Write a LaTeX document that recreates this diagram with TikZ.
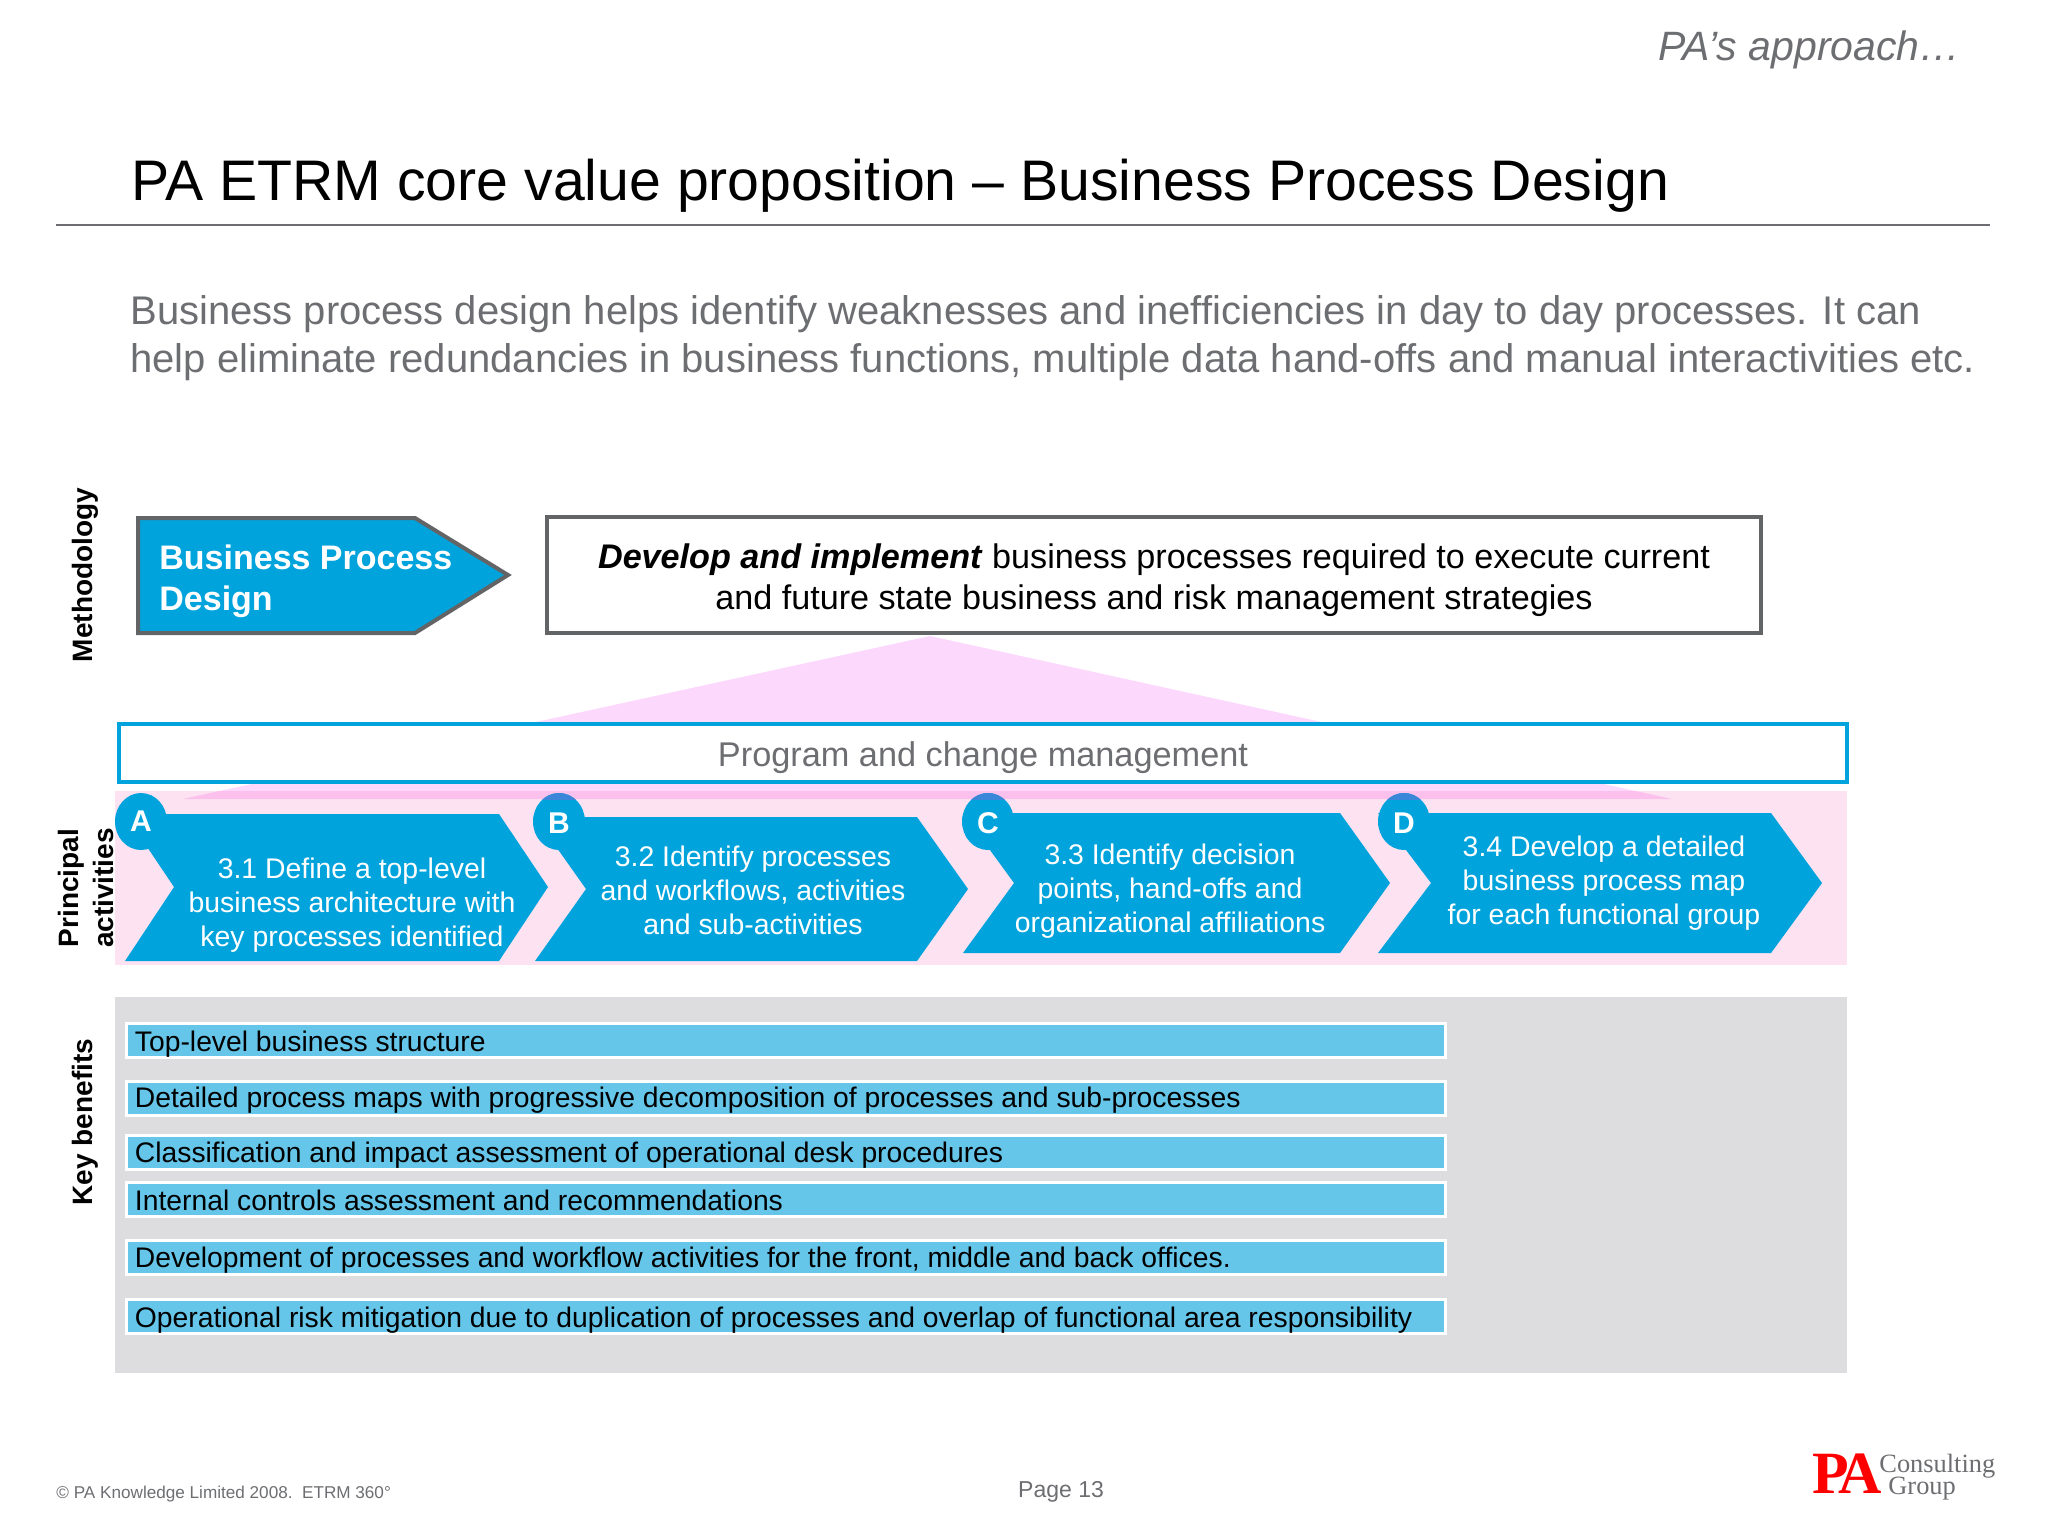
\documentclass[tikz,border=0pt]{standalone}
\usepackage{fontspec}
\usetikzlibrary{shapes.geometric}
\setmainfont{Liberation Sans}
\newfontfamily\serifgroup{Liberation Serif}
\definecolor{pablue}{HTML}{00A3DB}
\definecolor{pabar}{HTML}{66C6EA}
\definecolor{pagrey}{HTML}{6D6E71}
\definecolor{paedge}{HTML}{636466}
\definecolor{papink}{HTML}{FDE3F2}
\definecolor{patri}{HTML}{FCD9FC}
\definecolor{pastrip}{HTML}{FBC0EC}
\definecolor{papanel}{HTML}{DDDCDE}
\definecolor{pacap}{HTML}{3B86D8}
\tikzset{
  chevron/.style={fill=pablue},
  badge/.style={ellipse,fill=pablue,minimum width=26pt,minimum height=28.5pt,inner sep=0pt},
  badgetext/.style={text=white,inner sep=0pt,font=\fontsize{15}{15}\selectfont\bfseries},
  acttext/.style={align=center,text=white,font=\fontsize{14.2}{17}\selectfont},
  benefit/.style={draw=white,line width=1.5pt,fill=pabar,minimum height=17pt,minimum width=659.5pt,inner sep=0pt},
  bentext/.style={anchor=west,inner sep=0pt,font=\fontsize{14.15}{17}\selectfont},
  sidelabel/.style={rotate=90,align=center,font=\fontsize{14}{17.5}\selectfont\bfseries}
}
\begin{document}
\begin{tikzpicture}[x=0.5pt,y=-0.5pt]
  \useasboundingbox (0,0) rectangle (2048,1536);
  \node[anchor=east,inner sep=0pt,text=pagrey,font=\fontsize{20.5}{20.5}\selectfont\itshape] (section) at (1961,50) {PA’s approach…};
  \node[anchor=base west,inner sep=0pt,font=\fontsize{28.6}{30}\selectfont] (title) at (131,200) {PA ETRM core value proposition – Business Process Design};
  \coordinate (ruleleft) at (56,225);
  \coordinate (ruleright) at (1990,225);
  \draw[pagrey,line width=0.6pt] (ruleleft) -- (ruleright);
  \node[anchor=base west,inner sep=0pt,text=pagrey,font=\fontsize{20}{24}\selectfont] (introa) at (130,324) {Business process design helps identify weaknesses and inefficiencies in day to day processes. It can};
  \node[anchor=base west,inner sep=0pt,text=pagrey,font=\fontsize{20}{24}\selectfont] (introb) at (130,372) {help eliminate redundancies in business functions, multiple data hand-offs and manual interactivities etc.};

  \node[sidelabel] (method) at (85,575) {Methodology};
  \node[sidelabel] (principal) at (86,888) {Principal\\activities};
  \node[sidelabel] (keyben) at (85,1122) {Key benefits};

  \fill[patri] (930,636) -- (1672,799) -- (183,799) -- cycle;
  \fill[papink] (115,791) rectangle (1847,965);
  \fill[pastrip] (219,791) -- (1636,791) -- (1672,799) -- (183,799) -- cycle;

  \draw[paedge,line width=2pt,fill=pablue] (138,518) -- (415,518) -- (508,575) -- (415,633) -- (138,633) -- cycle;
  \node[anchor=west,align=left,inner sep=0pt,text=white,font=\fontsize{17}{20.5}\selectfont\bfseries] (bpd) at (159,581) {Business Process\\Design};
  \node[draw=paedge,line width=2pt,fill=white,minimum width=607pt,minimum height=58pt,inner sep=0pt] (develop) at (1154,575) {};
  \node[align=center,inner sep=0pt,font=\fontsize{17.08}{20.5}\selectfont] (developtext) at (1154,580) {\textbf{\textit{Develop and implement}} business processes required to execute current\\and future state business and risk management strategies};
  \node[draw=pablue,line width=2pt,fill=white,minimum width=864pt,minimum height=29pt,inner sep=0pt] (program) at (983,753) {};
  \node[inner sep=0pt,text=pagrey,font=\fontsize{17.15}{20}\selectfont] (programtext) at (983,758) {Program and change management};

  \fill[chevron] (125,814) -- (499,814) -- (548,887) -- (499,961) -- (125,961) -- (174,887) -- cycle;
  \fill[chevron] (535,817) -- (917,817) -- (968,889) -- (917,961) -- (535,961) -- (586,889) -- cycle;
  \fill[chevron] (963,813) -- (1340,813) -- (1390,883) -- (1340,953) -- (963,953) -- (1014,883) -- cycle;
  \fill[chevron] (1378,813) -- (1771,813) -- (1822,883) -- (1771,953) -- (1378,953) -- (1431,883) -- cycle;

  \node[badge] (a) at (141,821.5) {};
  \node[badge] (b) at (559,821.5) {};
  \node[badge] (c) at (988,821.5) {};
  \node[badge] (d) at (1404,821.5) {};
  \foreach \cx in {559,988,1404} {
    \begin{scope}
      \clip (\cx,821.5) ellipse (13pt and 14.25pt);
      \fill[pacap] (\cx-30,785) rectangle (\cx+30,800);
    \end{scope}
  }
  \node[badgetext] (alabel) at (141,821) {A};
  \node[badgetext] (blabel) at (559,823) {B};
  \node[badgetext] (clabel) at (988,823) {C};
  \node[badgetext] (dlabel) at (1404,823) {D};

  \node[acttext] (acta) at (352,905) {3.1 Define a top-level\\business architecture with\\key processes identified};
  \node[acttext] (actb) at (753,890) {3.2 Identify processes\\and workflows, activities\\and sub-activities};
  \node[acttext] (actc) at (1170,891) {3.3 Identify decision\\points, hand-offs and\\organizational affiliations};
  \node[acttext] (actd) at (1604,883) {3.4 Develop a detailed\\business process map\\for each functional group};

  \fill[papanel] (115,997) rectangle (1847,1373);
  \node[benefit] (bara) at (786,1040.5) {};
  \node[benefit] (barb) at (786,1098) {};
  \node[benefit] (barc) at (786,1152.5) {};
  \node[benefit] (bard) at (786,1199) {};
  \node[benefit] (bare) at (786,1257) {};
  \node[benefit] (barf) at (786,1316) {};
  \node[bentext] (bena) at (134.5,1044.5) {Top-level business structure};
  \node[bentext] (benb) at (134.5,1100.5) {Detailed process maps with progressive decomposition of processes and sub-processes};
  \node[bentext] (benc) at (134.5,1155.5) {Classification and impact assessment of operational desk procedures};
  \node[bentext] (bend) at (134.5,1200) {Internal controls assessment and recommendations};
  \node[bentext] (bene) at (134.5,1260.5) {Development of processes and workflow activities for the front, middle and back offices.};
  \node[bentext] (benf) at (134.5,1320.5) {Operational risk mitigation due to duplication of processes and overlap of functional area responsibility};

  \node[anchor=west,inner sep=0pt,text=pagrey,font=\fontsize{8.57}{10}\selectfont] (copyright) at (56,1494) {© PA Knowledge Limited 2008.\ \ ETRM 360°};
  \node[inner sep=0pt,text=pagrey,font=\fontsize{11.5}{13}\selectfont] (page) at (1061,1492) {Page 13};
  \node[anchor=base west,inner sep=0pt,text=red,font=\fontsize{30}{30}\selectfont\serifgroup\bfseries] (logopa) at (1812,1493) {P\kern-5.5ptA};
  \node[anchor=base west,inner sep=0pt,text=pagrey,font=\fontsize{13.2}{14}\selectfont\serifgroup] (logoa) at (1879,1472) {Consulting};
  \node[anchor=base west,inner sep=0pt,text=pagrey,font=\fontsize{13.2}{14}\selectfont\serifgroup] (logob) at (1888,1494) {Group};
\end{tikzpicture}
\end{document}
